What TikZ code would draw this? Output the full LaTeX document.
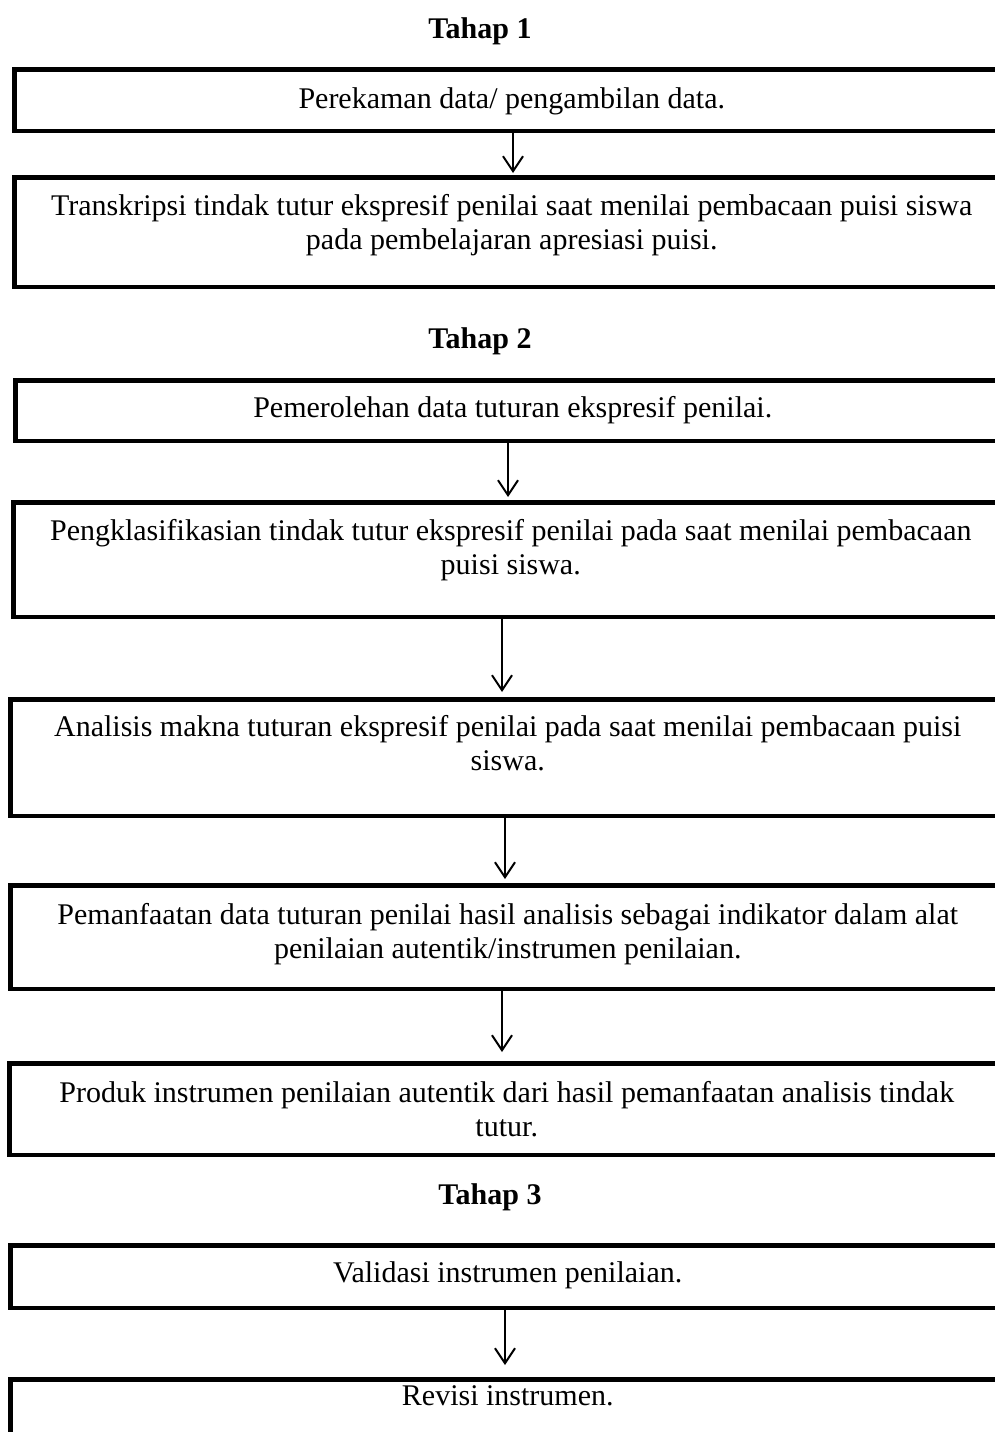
\documentclass[tikz,border=0pt]{standalone}
\usepackage{fontspec}
\setmainfont{Liberation Serif}
\usetikzlibrary{positioning, arrows.meta}

\begin{document}
\begin{tikzpicture}[x=1pt, y=-1pt,
  font=\fontsize{30}{34}\selectfont,
  stepframe/.style={draw, line width=4.5pt, minimum width=995pt, anchor=north west, inner sep=0pt},
  steptext/.style={align=center, inner sep=0pt},
  tahaptitle/.style={font=\fontsize{30}{34}\selectfont\bfseries, anchor=base},
  flow/.style={line width=2pt, -{Straight Barb[length=15pt, width=20pt]}}]
    \clip (0,0) rectangle (995,1432);

    % Tahap 1
    \node[tahaptitle] (tahapA) at (480,38) {Tahap 1};

    \node[stepframe, minimum height=61.5pt] (perekaman) at (12,67) {};
    \node[steptext, below=20pt of perekaman.north] (perekamanText) {Perekaman data/ pengambilan data.};

    \node[stepframe, minimum height=109.5pt] (transkripsi) at (12,175) {};
    \node[steptext, below=19pt of transkripsi.north] (transkripsiText)
    {Transkripsi tindak tutur ekspresif penilai saat menilai pembacaan puisi siswa\\ pada pembelajaran apresiasi puisi.};

    % Tahap 2
    \node[tahaptitle] (tahapB) at (480,348) {Tahap 2};

    \node[stepframe, minimum height=60.5pt] (pemerolehan) at (13,378) {};
    \node[steptext, below=18pt of pemerolehan.north] (pemerolehanText) {Pemerolehan data tuturan ekspresif penilai.};

    \node[stepframe, minimum height=114.5pt] (klasifikasi) at (11,500) {};
    \node[steptext, below=19pt of klasifikasi.north] (klasifikasiText)
    {Pengklasifikasian tindak tutur ekspresif penilai pada saat menilai pembacaan\\ puisi siswa.};

    \node[stepframe, minimum height=116.5pt] (analisis) at (8,697) {};
    \node[steptext, below=18pt of analisis.north] (analisisText)
    {Analisis makna tuturan ekspresif penilai pada saat menilai pembacaan puisi\\ siswa.};

    \node[stepframe, minimum height=103.5pt] (pemanfaatan) at (8,883) {};
    \node[steptext, below=20pt of pemanfaatan.north] (pemanfaatanText)
    {Pemanfaatan data tuturan penilai hasil analisis sebagai indikator dalam alat\\ penilaian autentik/instrumen penilaian.};

    \node[stepframe, minimum height=91.5pt] (produk) at (7,1061) {};
    \node[steptext, below=20pt of produk.north] (produkText)
    {Produk instrumen penilaian autentik dari hasil pemanfaatan analisis tindak\\ tutur.};

    % Tahap 3
    \node[tahaptitle] (tahapC) at (490,1204) {Tahap 3};

    \node[stepframe, minimum height=62.5pt] (validasi) at (8,1243) {};
    \node[steptext, below=18pt of validasi.north] (validasiText) {Validasi instrumen penilaian.};

    \node[stepframe, minimum height=80pt] (revisi) at (8,1377) {};
    \node[steptext, below=8pt of revisi.north] (revisiText) {Revisi instrumen.};

    % arrows
    \draw[flow, shorten >=2pt] (perekaman.south -| 513,0) -- (transkripsi.north -| 513,0);
    \draw[flow, shorten >=3pt] (pemerolehan.south -| 508,0) -- (klasifikasi.north -| 508,0);
    \draw[flow, shorten >=5pt] (klasifikasi.south -| 502,0) -- (analisis.north -| 502,0);
    \draw[flow, shorten >=4pt] (analisis.south -| 505,0) -- (pemanfaatan.north -| 505,0);
    \draw[flow, shorten >=9pt] (pemanfaatan.south -| 502,0) -- (produk.north -| 502,0);
    \draw[flow, shorten >=12pt] (validasi.south -| 505,0) -- (revisi.north -| 505,0);
\end{tikzpicture}
\end{document}
